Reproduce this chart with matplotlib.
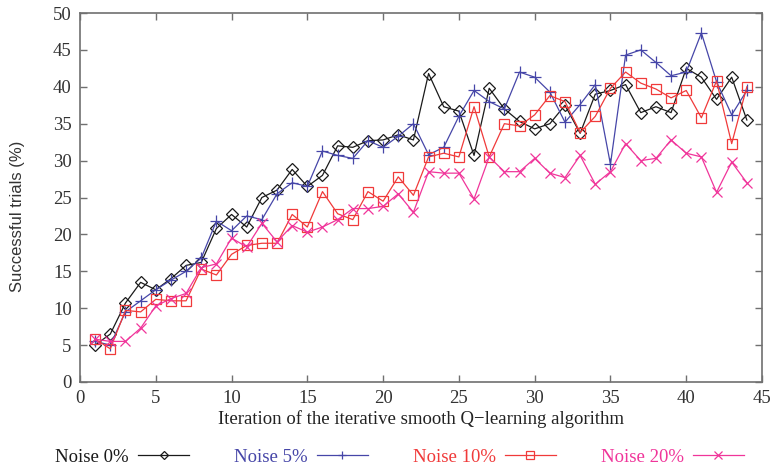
import matplotlib
matplotlib.use('Agg')
from matplotlib import pyplot as plt

iterations = list(range(1, 45))

noise_0 = [5.0, 6.5, 10.7, 13.5, 12.5, 14.0, 15.8, 16.2, 20.8, 22.7,
           21.0, 25.0, 26.0, 28.8, 26.5, 28.0, 32.0, 31.8, 32.7, 32.8,
           33.5, 32.8, 41.8, 37.3, 36.7, 30.7, 39.8, 37.0, 35.3, 34.3,
           35.0, 37.5, 33.7, 39.0, 39.5, 40.3, 36.5, 37.3, 36.5, 42.5,
           41.3, 38.3, 41.3, 35.5]
noise_5 = [5.5, 5.0, 9.5, 11.0, 12.5, 13.8, 15.0, 16.8, 21.8, 20.5,
           22.5, 22.0, 25.5, 27.0, 26.5, 31.3, 30.7, 30.3, 32.7, 31.8,
           33.3, 35.0, 30.8, 31.8, 36.0, 39.5, 38.0, 37.0, 42.0, 41.3,
           39.3, 35.2, 37.6, 40.3, 29.5, 44.3, 45.0, 43.3, 41.5, 42.0,
           47.3, 40.7, 36.2, 39.5]
noise_10 = [5.8, 4.5, 9.7, 9.5, 11.2, 11.0, 11.0, 15.3, 14.5, 17.3,
            18.5, 18.8, 18.8, 22.7, 21.0, 25.8, 22.8, 22.0, 25.8, 24.5,
            27.8, 25.3, 30.5, 31.0, 30.5, 37.3, 30.5, 35.0, 34.7, 36.2,
            38.8, 38.0, 33.8, 36.0, 39.8, 42.0, 40.5, 39.7, 38.5, 39.5,
            35.8, 40.8, 32.3, 40.0]
noise_20 = [5.8, 5.5, 5.5, 7.3, 10.3, 11.3, 12.0, 15.5, 16.0, 19.5,
            18.3, 21.5, 19.0, 21.2, 20.3, 21.0, 22.0, 23.5, 23.5, 23.8,
            25.5, 23.0, 28.5, 28.3, 28.3, 24.8, 30.5, 28.5, 28.5, 30.3,
            28.3, 27.7, 30.7, 26.8, 28.5, 32.3, 30.0, 30.3, 32.8, 31.0,
            30.5, 25.7, 29.8, 27.0]

labels = ['Noise 0%', 'Noise 5%', 'Noise 10%', 'Noise 20%']

plt.rcParams['font.family'] = ['Liberation Serif', 'DejaVu Serif']

fig = plt.figure(figsize=(7.76, 4.70), dpi=100)
ax = fig.add_axes([80 / 776, 1 - 382 / 470, (762 - 80) / 776, (382 - 13) / 470])

series = [
    (noise_0, '#1a1a1a', 'D', 6.0, 'none'),
    (noise_5, '#4646a8', '+', 9.0, '#4646a8'),
    (noise_10, '#f03a3a', 's', 7.5, 'none'),
    (noise_20, '#f0359a', 'x', 7.5, '#f0359a'),
]
for (vals, col, mk, ms, mfc), lab in zip(series, labels):
    ax.plot(iterations, vals, color=col, lw=0.9, marker=mk, ms=ms,
            mfc=mfc, mec=col, mew=0.9, label=lab)

ax.set_xlim(0, 45)
ax.set_ylim(0, 50)
ax.set_xticks(range(0, 46, 5))
ax.set_yticks(range(0, 51, 5))
ax.tick_params(direction='in', top=True, right=True, length=5, width=1,
               color='#707070', labelsize=13.5, labelcolor='#333333', pad=6)
for sp in ax.spines.values():
    sp.set_color('#707070')
    sp.set_linewidth(1.2)

ax.set_xlabel('Iteration of the iterative smooth Q\u2212learning algorithm',
              fontsize=13.5, color='#222222', labelpad=2)
ax.set_ylabel('Successful trials (%)', fontsize=12, family='Liberation Sans',
              color='#333333')
ax.yaxis.set_label_coords(-0.08, 0.45)

fig.legend(loc='center left', bbox_to_anchor=(46 / 776, 1 - 457 / 470),
           ncol=4, frameon=False, markerfirst=False, fontsize=13.5,
           handlelength=2.7, handletextpad=0.5, columnspacing=2.4,
           borderpad=0, labelcolor='linecolor', markerscale=0.7)

fig.savefig('out.png', dpi=100)
